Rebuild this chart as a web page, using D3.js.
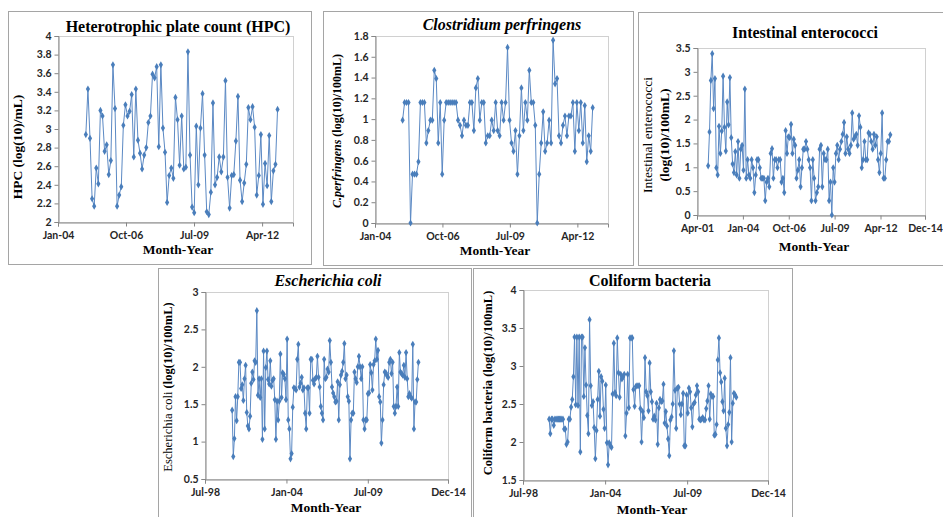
<!DOCTYPE html>
<html>
<head>
<meta charset="utf-8">
<script src="https://cdn.jsdelivr.net/npm/d3@7"></script>
<style>
  body { margin: 0; background: #fff; }
  svg { display: block; }
</style>
</head>
<body>
<svg id="chart" width="943" height="517"></svg>
<script>
/***
 * five water quality time series (log10 counts by month)
***/
const parseDate = d3.timeParse('%Y-%m-%d');

// HPC, log(10)/mL, Feb-05 .. Nov-12
const hpcValues = [2.94, 3.43, 2.90, 2.25, 2.17, 2.58, 2.41, 3.20, 3.14, 2.76, 2.83, 2.51, 2.66, 3.69, 3.22, 2.17, 2.29, 2.38, 3.04, 3.26,
    3.14, 3.19, 3.37, 2.70, 3.43, 2.88, 2.74, 2.57, 2.72, 2.80, 3.07, 3.14, 3.59, 3.55, 3.67, 2.81, 3.69, 3.01, 2.75, 2.21,
    2.50, 2.58, 2.47, 3.34, 3.10, 2.61, 3.14, 2.57, 2.59, 3.83, 2.72, 2.16, 2.10, 3.03, 2.40, 3.01, 3.38, 2.72, 2.11, 2.08,
    2.32, 3.28, 2.40, 2.48, 2.70, 2.54, 2.70, 3.52, 2.48, 2.15, 2.50, 2.51, 2.87, 3.35, 2.45, 2.22, 2.42, 2.62, 3.23, 3.10,
    3.24, 3.02, 2.29, 2.50, 2.94, 2.19, 2.63, 2.39, 2.93, 2.22, 2.55, 2.62, 3.21];

// C. perfringens, log(10)/100mL
const cperfValues = [0.99, 1.16, 1.16, 1.16, 0.00, 0.47, 0.47, 0.47, 0.59, 1.16, 1.16, 1.16, 0.77, 0.89, 0.99, 0.99, 1.47, 1.39, 0.77, 1.16,
    0.47, 0.99, 1.16, 1.16, 1.16, 1.16, 1.16, 1.16, 0.99, 0.94, 0.84, 0.99, 0.94, 0.94, 1.16, 1.16, 0.89, 1.30, 1.39, 0.99,
    1.16, 1.16, 0.77, 0.84, 0.84, 0.99, 0.89, 1.16, 0.89, 0.84, 1.16, 0.99, 1.16, 1.69, 0.99, 0.77, 0.69, 0.89, 0.47, 0.84,
    1.30, 0.89, 1.16, 0.99, 1.47, 1.16, 1.16, 0.94, 0.00, 0.47, 0.77, 1.07, 0.69, 0.77, 0.99, 0.77, 1.76, 1.34, 1.39, 0.84,
    0.77, 0.94, 1.03, 0.84, 1.03, 1.03, 1.16, 0.69, 1.16, 0.89, 1.16, 0.77, 1.13, 0.59, 0.84, 0.69, 1.11];

// Intestinal enterococci, log(10)/100mL
const enteroValues = [1.03, 1.74, 2.82, 3.38, 2.23, 2.86, 0.99, 0.84, 1.86, 1.29, 1.76, 2.91, 1.84, 1.34, 2.37, 1.89, 2.88, 1.62, 1.07, 0.89,
    1.33, 0.84, 1.54, 0.77, 1.38, 1.46, 0.94, 2.64, 0.77, 1.16, 0.84, 0.77, 1.16, 0.99, 0.47, 0.84, 1.16, 1.16, 0.99, 0.77,
    0.77, 0.77, 0.30, 0.69, 0.77, 0.59, 1.29, 1.39, 0.77, 1.16, 1.16, 0.99, 1.16, 1.16, 0.69, 0.77, 0.47, 1.77, 1.29, 1.64,
    1.62, 1.90, 1.29, 1.59, 1.46, 0.77, 0.94, 1.16, 0.59, 0.99, 1.38, 1.38, 1.54, 1.38, 1.16, 0.99, 0.30, 1.16, 0.77, 0.30,
    0.47, 0.59, 1.38, 1.46, 0.59, 1.29, 1.16, 1.16, 1.38, 0.30, 0.69, 0.00, 0.99, 0.69, 1.29, 1.46, 1.16, 1.38, 1.54, 1.69,
    1.94, 1.29, 1.64, 1.38, 1.29, 1.46, 2.14, 1.59, 1.64, 1.69, 1.46, 2.08, 1.84, 0.99, 1.16, 1.54, 1.16, 1.16, 1.72, 1.69,
    1.54, 1.38, 1.69, 1.46, 1.64, 1.16, 0.89, 1.29, 2.14, 0.77, 0.77, 1.16, 1.54, 1.54, 1.68];

// Escherichia coli, log(10)/100mL
const ecoliValues = [1.42, 0.80, 1.04, 1.60, 1.28, 1.60, 2.06, 2.06, 1.71, 1.76, 1.55, 1.84, 2.02, 1.39, 1.21, 1.17, 1.34, 1.78, 1.93, 1.83,
    2.08, 2.06, 2.75, 1.62, 1.84, 1.59, 1.84, 1.03, 2.21, 1.17, 1.99, 2.21, 1.83, 1.77, 2.08, 1.74, 1.82, 1.84, 1.56, 1.03,
    1.54, 1.29, 1.54, 2.17, 1.59, 1.92, 1.90, 1.84, 1.56, 2.37, 1.29, 1.17, 0.77, 0.84, 1.46, 1.72, 1.71, 1.69, 2.10, 2.30,
    1.73, 1.78, 1.86, 1.69, 1.72, 1.38, 1.17, 1.72, 1.72, 1.38, 2.10, 2.10, 1.82, 1.77, 1.84, 1.86, 2.14, 1.86, 1.73, 1.47,
    1.38, 1.29, 2.10, 1.84, 1.86, 1.97, 1.93, 2.35, 2.06, 1.73, 1.65, 1.60, 1.53, 1.54, 1.80, 1.29, 1.76, 1.89, 1.94, 2.06,
    2.31, 1.84, 1.89, 1.60, 1.54, 0.77, 1.29, 1.38, 1.38, 1.93, 1.84, 1.79, 2.00, 2.14, 2.00, 1.84, 2.00, 1.29, 1.17, 1.29,
    1.29, 1.64, 1.65, 2.03, 1.92, 1.69, 2.03, 2.08, 2.37, 2.10, 2.22, 1.60, 1.53, 0.98, 1.29, 1.76, 1.93, 1.92, 1.88, 1.86,
    2.06, 2.10, 1.91, 2.06, 1.47, 1.38, 1.47, 1.73, 1.47, 2.19, 1.93, 1.91, 1.89, 2.02, 1.86, 2.19, 1.84, 1.60, 1.64, 1.60,
    1.58, 2.30, 1.17, 1.53, 1.53, 1.83, 2.06];

// Coliform bacteria, log(10)/100mL
const coliformValues = [2.30, 2.11, 2.30, 2.30, 2.22, 2.30, 2.30, 2.30, 2.30, 2.30, 2.30, 2.30, 2.30, 2.17, 2.17, 1.97, 2.00, 2.30, 2.30, 2.46,
    2.56, 2.86, 3.38, 2.49, 3.38, 2.48, 3.38, 1.87, 3.38, 3.38, 2.60, 3.24, 2.75, 2.35, 2.11, 3.61, 2.74, 2.48, 2.53, 2.19,
    1.78, 2.15, 2.56, 2.93, 2.34, 2.86, 2.80, 2.43, 2.18, 2.75, 1.99, 1.70, 1.99, 1.95, 1.93, 2.63, 3.30, 2.65, 2.61, 3.37,
    2.91, 2.59, 2.89, 2.83, 2.86, 2.89, 2.08, 2.38, 2.89, 2.45, 3.37, 3.37, 3.37, 2.69, 2.47, 2.73, 2.74, 2.74, 2.74, 2.44,
    2.00, 2.40, 2.32, 3.11, 2.66, 2.61, 2.41, 3.04, 2.66, 2.53, 2.30, 2.34, 2.29, 2.51, 1.97, 2.45, 2.56, 2.53, 2.54, 2.76,
    2.25, 2.40, 2.21, 2.04, 1.82, 2.29, 2.33, 2.50, 3.20, 2.68, 2.18, 2.71, 2.72, 2.50, 2.36, 2.50, 2.64, 1.95, 1.95, 2.62,
    2.38, 2.71, 2.66, 2.45, 2.20, 2.50, 2.52, 2.62, 2.74, 2.66, 2.30, 2.29, 2.30, 2.32, 2.29, 2.29, 2.44, 2.54, 2.74, 2.30,
    2.63, 2.60, 2.60, 2.09, 2.10, 2.23, 3.08, 3.37, 2.91, 2.79, 2.53, 2.41, 2.84, 2.18, 1.95, 2.23, 2.39, 3.11, 2.00, 2.51,
    2.64, 2.62, 2.59];

// sampling periods (first and last sample)
const hpcPeriod = ['2005-02-15', '2012-11-15'];
const cperfPeriod = ['2005-02-15', '2012-11-15'];
const enteroPeriod = ['2001-12-01', '2012-11-01'];
const ecoliPeriod = ['2000-05-01', '2012-12-01'];
const coliformPeriod = ['2000-04-01', '2012-10-15'];

// axis ticks
const xTicksA = ['2004-01-01', '2006-10-01', '2009-07-01', '2012-04-01'];
const xTicksB = ['2001-04-01', '2004-01-01', '2006-10-01', '2009-07-01', '2012-04-01', '2014-12-01'];
const xTicksC = ['1998-07-01', '2004-01-01', '2009-07-01', '2014-12-01'];
const yTicksHpc = [2, 2.2, 2.4, 2.6, 2.8, 3, 3.2, 3.4, 3.6, 3.8, 4];
const yTicksCperf = [0, 0.2, 0.4, 0.6, 0.8, 1, 1.2, 1.4, 1.6, 1.8];
const yTicksEntero = [0, 0.5, 1, 1.5, 2, 2.5, 3, 3.5];
const yTicksEcoli = [0.5, 1, 1.5, 2, 2.5, 3];
const yTicksColiform = [1.5, 2, 2.5, 3, 3.5, 4];

const LINE_COLOR = '#5b89c4';
const MARKER_COLOR = '#4a7ebb';
const SERIF = '"Liberation Serif", "DejaVu Serif", serif';
const SANS = 'Lato, "Liberation Sans", sans-serif';

const svg = d3.select('#chart');

// panel layouts
const panels = [
    {
        values: hpcValues, period: hpcPeriod,
        frame: [8.5, 11.5, 303, 253],
        plot: { left: 58, top: 36, right: 293, bottom: 222 },
        xDomain: ['2004-01-01', '2013-07-01'], xTicks: xTicksA,
        yDomain: [2, 4], yTicks: yTicksHpc,
        title: [['Heterotrophic plate count (HPC)', 'normal']], titlePos: [178, 32],
        yLabel: [[['HPC (log(10)/mL)', 'normal', 'bold']]], yLabelPos: [18, 147], yLabelSize: 13.5,
        xTitlePos: [178, 254]
    },
    {
        values: cperfValues, period: cperfPeriod,
        frame: [323.5, 11.5, 310, 254],
        plot: { left: 375, top: 36, right: 608, bottom: 223 },
        xDomain: ['2004-01-01', '2013-07-01'], xTicks: xTicksA,
        yDomain: [0, 1.8], yTicks: yTicksCperf,
        title: [['Clostridium perfringens', 'italic']], titlePos: [502, 30],
        yLabel: [[['C.perfringens', 'italic', 'bold'], [' (log(10)/100mL)', 'normal', 'bold']]], yLabelPos: [337, 131], yLabelSize: 12,
        xTitlePos: [495, 255]
    },
    {
        values: enteroValues, period: enteroPeriod,
        frame: [638.5, 12.5, 320, 253],
        plot: { left: 697, top: 48, right: 925, bottom: 215 },
        xDomain: ['2001-04-01', '2014-12-01'], xTicks: xTicksB,
        yDomain: [0, 3.5], yTicks: yTicksEntero,
        title: [['Intestinal enterococci', 'normal']], titlePos: [805, 38],
        yLabel: [[['Intestinal enterococci', 'normal', 'normal']], [['(log(10)/100mL)', 'normal', 'bold']]], yLabelPos: [656, 135], yLabelSize: 13.5,
        xTitlePos: [814, 251]
    },
    {
        values: ecoliValues, period: ecoliPeriod,
        frame: [158.5, 268.5, 313, 260],
        plot: { left: 205, top: 292, right: 448, bottom: 479 },
        xDomain: ['1998-07-01', '2014-12-01'], xTicks: xTicksC,
        yDomain: [0.5, 3], yTicks: yTicksEcoli,
        title: [['Escherichia coli', 'italic']], titlePos: [328, 286],
        yLabel: [[['Escherichia coli', 'normal', 'normal'], [' (log(10)/100mL)', 'normal', 'bold']]], yLabelPos: [168, 387], yLabelSize: 12.5,
        xTitlePos: [326, 512]
    },
    {
        values: coliformValues, period: coliformPeriod,
        frame: [473.5, 268.5, 319, 260],
        plot: { left: 523, top: 290, right: 768, bottom: 480 },
        xDomain: ['1998-07-01', '2014-12-01'], xTicks: xTicksC,
        yDomain: [1.5, 4], yTicks: yTicksColiform,
        title: [['Coliform bacteria', 'normal']], titlePos: [650, 286],
        yLabel: [[['Coliform bacteria (log(10)/100mL)', 'normal', 'bold']]], yLabelPos: [488, 383], yLabelSize: 12.5,
        xTitlePos: [652, 514]
    }
];

function drawPanel(cfg) {
    const g = svg.append('g');
    const p = cfg.plot;

    // outer frame
    g.append('rect')
        .attr('x', cfg.frame[0]).attr('y', cfg.frame[1])
        .attr('width', cfg.frame[2]).attr('height', cfg.frame[3])
        .attr('fill', '#fff')
        .attr('stroke', '#a5a5a5');

    const x = d3.scaleTime()
        .domain(cfg.xDomain.map(parseDate))
        .range([p.left, p.right]);
    const y = d3.scaleLinear()
        .domain(cfg.yDomain)
        .range([p.bottom, p.top]);

    // plot area border
    g.append('rect')
        .attr('x', p.left + 0.5).attr('y', p.top + 0.5)
        .attr('width', p.right - p.left).attr('height', p.bottom - p.top)
        .attr('fill', 'none')
        .attr('stroke', '#d0d0d0');

    // axes
    const yAxis = g.append('g')
        .attr('transform', 'translate(' + (p.left + 0.5) + ',0)')
        .call(d3.axisLeft(y).tickValues(cfg.yTicks).tickSize(4).tickPadding(3)
            .tickFormat(d => String(+d.toFixed(1))));
    const xAxis = g.append('g')
        .attr('transform', 'translate(0,' + (p.bottom + 0.5) + ')')
        .call(d3.axisBottom(x).tickValues(cfg.xTicks.map(parseDate)).tickSize(4).tickPadding(5)
            .tickFormat(d3.timeFormat('%b-%y')));

    [xAxis, yAxis].forEach(ax => {
        ax.select('.domain').attr('stroke', '#868686');
        ax.selectAll('.tick line').attr('stroke', '#868686');
        ax.selectAll('.tick text')
            .attr('fill', '#262626')
            .style('font-family', SANS)
            .style('font-weight', 'bold')
            .style('font-size', '10.5px');
    });

    // series
    const first = parseDate(cfg.period[0]).getTime();
    const last = parseDate(cfg.period[1]).getTime();
    const step = (last - first) / (cfg.values.length - 1);
    const points = cfg.values.map((v, i) => ({ date: new Date(first + i * step), value: v }));

    const line = d3.line()
        .x(d => x(d.date))
        .y(d => y(d.value));

    g.append('path')
        .datum(points)
        .attr('d', line)
        .attr('fill', 'none')
        .attr('stroke', LINE_COLOR)
        .attr('stroke-width', 1);

    g.selectAll('.marker')
        .data(points)
        .enter()
        .append('path')
        .attr('class', 'marker')
        .attr('transform', d => 'translate(' + x(d.date) + ',' + y(d.value) + ')')
        .attr('d', d3.symbol().type(d3.symbolDiamond).size(15))
        .attr('fill', MARKER_COLOR);

    // chart title
    const title = g.append('text')
        .attr('x', cfg.titlePos[0]).attr('y', cfg.titlePos[1])
        .attr('text-anchor', 'middle')
        .style('font-family', SERIF)
        .style('font-weight', 'bold')
        .style('font-size', '16px');
    cfg.title.forEach(seg => title.append('tspan').text(seg[0]).style('font-style', seg[1]));

    // y axis title (rotated, one or two lines)
    const nLines = cfg.yLabel.length;
    cfg.yLabel.forEach((segments, li) => {
        const lx = cfg.yLabelPos[0] + (li - (nLines - 1) / 2) * 17 + 4;
        const t = g.append('text')
            .attr('transform', 'translate(' + lx + ',' + cfg.yLabelPos[1] + ') rotate(-90)')
            .attr('text-anchor', 'middle')
            .style('font-family', SERIF)
            .style('font-size', cfg.yLabelSize + 'px');
        segments.forEach(seg => t.append('tspan').text(seg[0])
            .style('font-style', seg[1])
            .style('font-weight', seg[2]));
    });

    // x axis title
    g.append('text')
        .attr('x', cfg.xTitlePos[0]).attr('y', cfg.xTitlePos[1])
        .attr('text-anchor', 'middle')
        .style('font-family', SERIF)
        .style('font-weight', 'bold')
        .style('font-size', '13.5px')
        .text('Month-Year');
}

panels.forEach(drawPanel);
</script>
</body>
</html>
